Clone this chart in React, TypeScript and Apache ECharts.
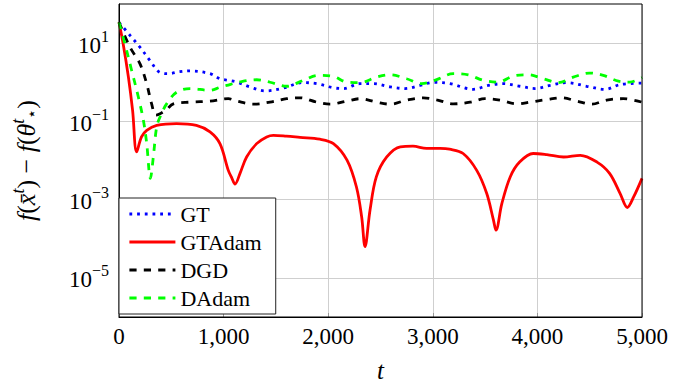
import React, { useEffect, useRef } from "react";
import * as echarts from "echarts";

const FONT = "'Liberation Serif', 'DejaVu Serif', serif";

// iterations t and values f(x̄^t) - f(θ*^t) for each method
const tGT = [0, 105, 200, 296, 385, 471, 580, 679, 870, 965, 1045, 1125, 1252, 1396, 1555, 1763, 1890, 2049, 2145, 2304, 2431, 2591, 2734, 2878, 3005, 3164, 3387, 3531, 3674, 3834, 3977, 4120, 4280, 4471, 4646, 4790, 5000];
const vGT = [34, 15.8, 7.9, 3.6, 1.82, 1.66, 1.86, 1.95, 1.66, 1.23, 1.12, 1.01, 0.76, 0.6, 0.69, 0.98, 0.92, 0.72, 0.69, 0.92, 0.92, 0.76, 0.69, 0.83, 0.99, 0.92, 0.66, 0.83, 0.92, 0.79, 0.69, 0.83, 0.98, 0.79, 0.66, 0.87, 0.95];

const tGTAdam = [0, 40, 90, 130, 169, 215, 265, 360, 550, 740, 870, 965, 1045, 1080, 1109, 1157, 1220, 1316, 1412, 1476, 1600, 1730, 1920, 2050, 2180, 2270, 2320, 2352, 2400, 2460, 2560, 2690, 2810, 2940, 3070, 3160, 3290, 3420, 3515, 3580, 3604, 3660, 3740, 3830, 3960, 4090, 4250, 4410, 4570, 4690, 4790, 4860, 4920, 5000];
const vGTAdam = [34, 9.5, 1.35, 0.19, 0.0166, 0.04, 0.059, 0.079, 0.088, 0.079, 0.054, 0.027, 0.0056, 0.0035, 0.0025, 0.0047, 0.0123, 0.027, 0.04, 0.044, 0.042, 0.039, 0.035, 0.027, 0.0102, 0.0021, 0.00036, 0.000063, 0.00054, 0.0038, 0.0123, 0.0224, 0.0232, 0.0204, 0.0204, 0.0195, 0.0151, 0.0056, 0.00145, 0.0003, 0.000166, 0.00079, 0.0038, 0.0091, 0.0151, 0.0141, 0.0123, 0.0136, 0.0091, 0.0047, 0.00145, 0.00063, 0.00117, 0.0035];

const tDGD = [0, 105, 201, 265, 312, 354, 444, 520, 679, 870, 1045, 1125, 1284, 1444, 1603, 1730, 1890, 2017, 2177, 2304, 2463, 2591, 2750, 2910, 3037, 3196, 3356, 3499, 3642, 3802, 3929, 4089, 4232, 4376, 4519, 4662, 4821, 5000];
const vDGD = [34, 7.9, 2.95, 0.91, 0.28, 0.145, 0.19, 0.28, 0.31, 0.33, 0.38, 0.33, 0.275, 0.31, 0.38, 0.4, 0.31, 0.275, 0.33, 0.38, 0.31, 0.275, 0.35, 0.4, 0.355, 0.28, 0.31, 0.38, 0.35, 0.28, 0.31, 0.36, 0.4, 0.33, 0.275, 0.35, 0.38, 0.31];

const tDAdam = [0, 57, 121, 185, 233, 265, 300, 328, 360, 392, 455, 552, 679, 870, 965, 1029, 1157, 1316, 1444, 1603, 1763, 1906, 2049, 2177, 2304, 2463, 2591, 2750, 2894, 3037, 3196, 3340, 3483, 3626, 3770, 3913, 4057, 4200, 4343, 4496, 4630, 4774, 4885, 5000];
const vDAdam = [34, 9.5, 2.0, 0.42, 0.107, 0.027, 0.0035, 0.0123, 0.072, 0.129, 0.28, 0.56, 0.69, 0.62, 0.74, 0.83, 1.02, 1.16, 1.0, 0.79, 1.12, 1.5, 1.41, 1.01, 0.98, 1.35, 1.55, 1.23, 0.92, 1.17, 1.66, 1.55, 1.12, 1.01, 1.45, 1.55, 1.23, 0.98, 1.35, 1.72, 1.5, 1.07, 1.01, 1.32];

const seriesNames = ["GT", "GTAdam", "DGD", "DAdam"];
const xTicks = [0, 1000, 2000, 3000, 4000, 5000];

const pairs = (t: number[], v: number[]) => t.map((x, i) => [x, v[i]]);

export default function App() {
  const ref = useRef<HTMLDivElement>(null);
  useEffect(() => {
    if (!ref.current) return;
    const chart = echarts.init(ref.current, null, { renderer: "svg" });
    const lw = 2.8;
    const mk = (name: string, data: number[][], color: string, type: any) => ({
      name,
      type: "line",
      data,
      symbol: "none",
      smooth: 0.35,
      lineStyle: { color, width: lw, type },
      itemStyle: { color },
      z: 3,
    });
    chart.setOption({
      animation: false,
      backgroundColor: "#fff",
      textStyle: { fontFamily: FONT },
      grid: {
        left: 119,
        right: 55,
        top: 4,
        bottom: 72,
        show: true,
        borderColor: "#000",
        borderWidth: 1,
        backgroundColor: "transparent",
        z: 4,
      },
      legend: {
        data: seriesNames,
        orient: "vertical",
        left: 119,
        top: 198,
        itemWidth: 46,
        itemHeight: 14,
        itemGap: 6,
        padding: [5, 14, 5, 9],
        borderColor: "#222",
        borderWidth: 1,
        backgroundColor: "#fff",
        itemStyle: { opacity: 0 },
        lineStyle: { width: 2.8 },
        textStyle: { fontFamily: FONT, fontSize: 22, color: "#000" },
        z: 10,
      },
      xAxis: {
        type: "value",
        min: xTicks[0],
        max: xTicks[xTicks.length - 1],
        interval: 1000,
        name: "t",
        nameLocation: "middle",
        nameGap: 41,
        nameTextStyle: { fontFamily: FONT, fontSize: 25, fontStyle: "italic", color: "#000" },
        axisLine: { show: true, lineStyle: { color: "#000", width: 1 } },
        axisTick: { show: true, inside: true, length: 4, lineStyle: { color: "#999" } },
        axisLabel: {
          fontFamily: FONT,
          fontSize: 23,
          color: "#000",
          margin: 8,
          formatter: (v: number) => v.toLocaleString("en-US"),
        },
        splitLine: { show: true, lineStyle: { color: "#cfcfcf", width: 1 } },
      },
      yAxis: {
        type: "log",
        logBase: 10,
        min: 1e-6,
        max: 1e2,
        interval: 1,
        name: "{i|f}({i|x̄}{sup|t}) − {i|f}({i|θ}{sup|t}{sub|⋆})",
        nameLocation: "middle",
        nameRotate: 90,
        nameGap: 76,
        nameTextStyle: {
          fontFamily: FONT,
          fontSize: 26,
          color: "#000",
          rich: {
            i: { fontFamily: FONT, fontSize: 26, fontStyle: "italic", color: "#000" },
            sup: { fontFamily: FONT, fontSize: 18, fontStyle: "italic", color: "#000", padding: [0, 0, 16, 0] },
            sub: { fontFamily: FONT, fontSize: 16, color: "#000", padding: [10, 0, 0, 0] },
          },
        },
        axisLine: { show: true, lineStyle: { color: "#000", width: 1 } },
        axisTick: { show: false },
        axisLabel: {
          fontFamily: FONT,
          fontSize: 23,
          color: "#000",
          margin: 10,
          formatter: (v: number) => {
            const e = Math.round(Math.log10(v));
            if (e % 2 === 0) return "";
            return `{b|10}{s|${e < 0 ? "−" : ""}${Math.abs(e)}}`;
          },
          rich: {
            b: { fontFamily: FONT, fontSize: 23, color: "#000", padding: [4, 0, 0, 0] },
            s: { fontFamily: FONT, fontSize: 16, color: "#000", padding: [0, 0, 14, 0] },
          },
        },
        splitLine: { show: true, lineStyle: { color: ["rgba(0,0,0,0)", "#cfcfcf"], width: 1 } },
      },
      series: [
        mk("GT", pairs(tGT, vGT), "#0000ff", [2.8, 4.9]),
        mk("GTAdam", pairs(tGTAdam, vGTAdam), "#ff0000", "solid"),
        mk("DGD", pairs(tDGD, vDGD), "#000000", [7.2, 7.2]),
        mk("DAdam", pairs(tDAdam, vDAdam), "#00ff00", [7.2, 7.2]),
      ],
    });
    return () => chart.dispose();
  }, []);
  return <div ref={ref} style={{ position: "fixed", left: 0, top: 0, width: 697, height: 389 }} />;
}
